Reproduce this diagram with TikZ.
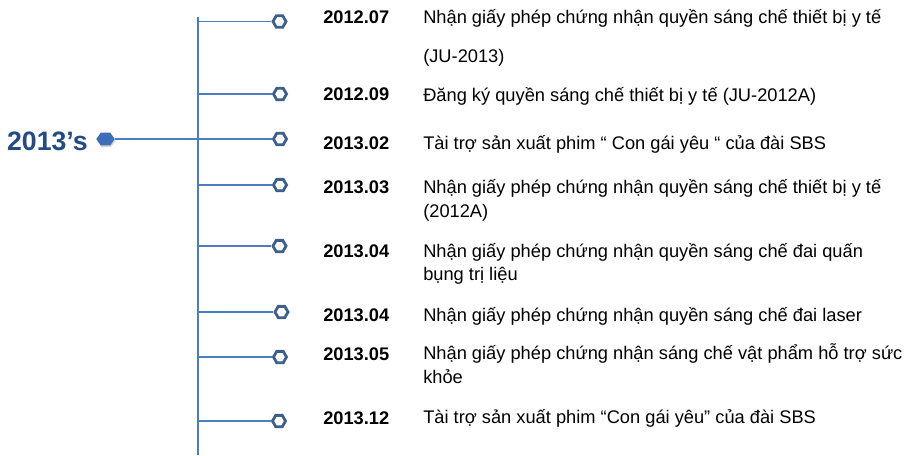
\documentclass[tikz,border=0pt]{standalone}
\usepackage{fontspec}
\setmainfont{Liberation Sans}
\usetikzlibrary{shapes.geometric,shadows}
\definecolor{titleblue}{HTML}{234C85}
\definecolor{lineblue}{HTML}{4A7EC0}
\definecolor{hexblue}{HTML}{3E5F8A}
\definecolor{hexfill}{HTML}{3B6DB8}
\begin{document}
\begin{tikzpicture}[x=0.75pt,y=-0.75pt,
  conn/.style={draw=lineblue,line width=0.8pt},
  hexo/.style={regular polygon,regular polygon sides=6,draw=hexblue,line width=2.1pt,fill=white,minimum size=9.8pt,inner sep=0pt},
  hubbox/.style={rectangle,minimum width=13.4pt,minimum height=9pt,inner sep=0pt},
  hexf/.style={fill=hexfill,drop shadow={opacity=0.35,shadow xshift=0.5pt,shadow yshift=-1.3pt}},
  datetxt/.style={anchor=base west,inner sep=0pt,font=\fontsize{13.7}{16}\selectfont\bfseries},
  desc/.style={anchor=base west,inner sep=0pt,font=\fontsize{13.7}{16}\selectfont},
  title/.style={anchor=base east,inner sep=0pt,font=\fontsize{20}{24}\selectfont\bfseries,text=titleblue}]
\useasboundingbox (0,0) rectangle (904,455);
% title and filled hexagon
\node[title] (title) at (88,150) {2013’s};
\node[hubbox] (hub) at (105.5,139) {};
\path[hexf] (hub.west) -- ([xshift=3.3pt]hub.north west) -- ([xshift=-3.3pt]hub.north east)
  -- (hub.east) -- ([xshift=-3.3pt]hub.south east) -- ([xshift=3.3pt]hub.south west) -- cycle;
% vertical spine
\coordinate (top) at (198,17);
\coordinate (bot) at (198,455);
\draw[conn] (top) -- (bot);
% outline hexagons
\node[hexo] (h1) at (279.5,21.5) {};
\node[hexo] (h2) at (280,94) {};
\node[hexo] (h3) at (280,139) {};
\node[hexo] (h4) at (280,185) {};
\node[hexo] (h5) at (279.5,246) {};
\node[hexo] (h6) at (281.5,312) {};
\node[hexo] (h7) at (280,357) {};
\node[hexo] (h8) at (279,421) {};
% branches
\foreach \i/\y in {1/21.5,2/94,4/185,5/246,6/312,7/357,8/421}{
  \coordinate (s\i) at (198,\y);
  \draw[conn] (s\i) -- (h\i.west);
}
\draw[conn] (hub.east) -- (h3.west);
% dates
\node[datetxt] (d1) at (323,23) {2012.07};
\node[datetxt] (d2) at (323,100) {2012.09};
\node[datetxt] (d3) at (323,149) {2013.02};
\node[datetxt] (d4) at (323,193) {2013.03};
\node[datetxt] (d5) at (323,257) {2013.04};
\node[datetxt] (d6) at (323,321) {2013.04};
\node[datetxt] (d7) at (323,360) {2013.05};
\node[datetxt] (d8) at (323,424) {2013.12};
% descriptions
\node[desc] (t1a) at (423,23) {Nhận giấy phép chứng nhận quyền sáng chế thiết bị y tế};
\node[desc] (t1b) at (423,62) {(JU-2013)};
\node[desc] (t2) at (423,101) {Đăng ký quyền sáng chế thiết bị y tế (JU-2012A)};
\node[desc] (t3) at (423,149) {Tài trợ sản xuất phim “ Con gái yêu “ của đài SBS};
\node[desc] (t4a) at (423,193) {Nhận giấy phép chứng nhận quyền sáng chế thiết bị y tế};
\node[desc] (t4b) at (423,217) {(2012A)};
\node[desc] (t5a) at (423,257) {Nhận giấy phép chứng nhận quyền sáng chế đai quấn};
\node[desc] (t5b) at (423,280) {bụng trị liệu};
\node[desc] (t6) at (423,321) {Nhận giấy phép chứng nhận quyền sáng chế đai laser};
\node[desc] (t7a) at (423,359) {Nhận giấy phép chứng nhận sáng chế vật phẩm hỗ trợ sức};
\node[desc] (t7b) at (423,383) {khỏe};
\node[desc] (t8) at (423,423) {Tài trợ sản xuất phim “Con gái yêu” của đài SBS};
\end{tikzpicture}
\end{document}
